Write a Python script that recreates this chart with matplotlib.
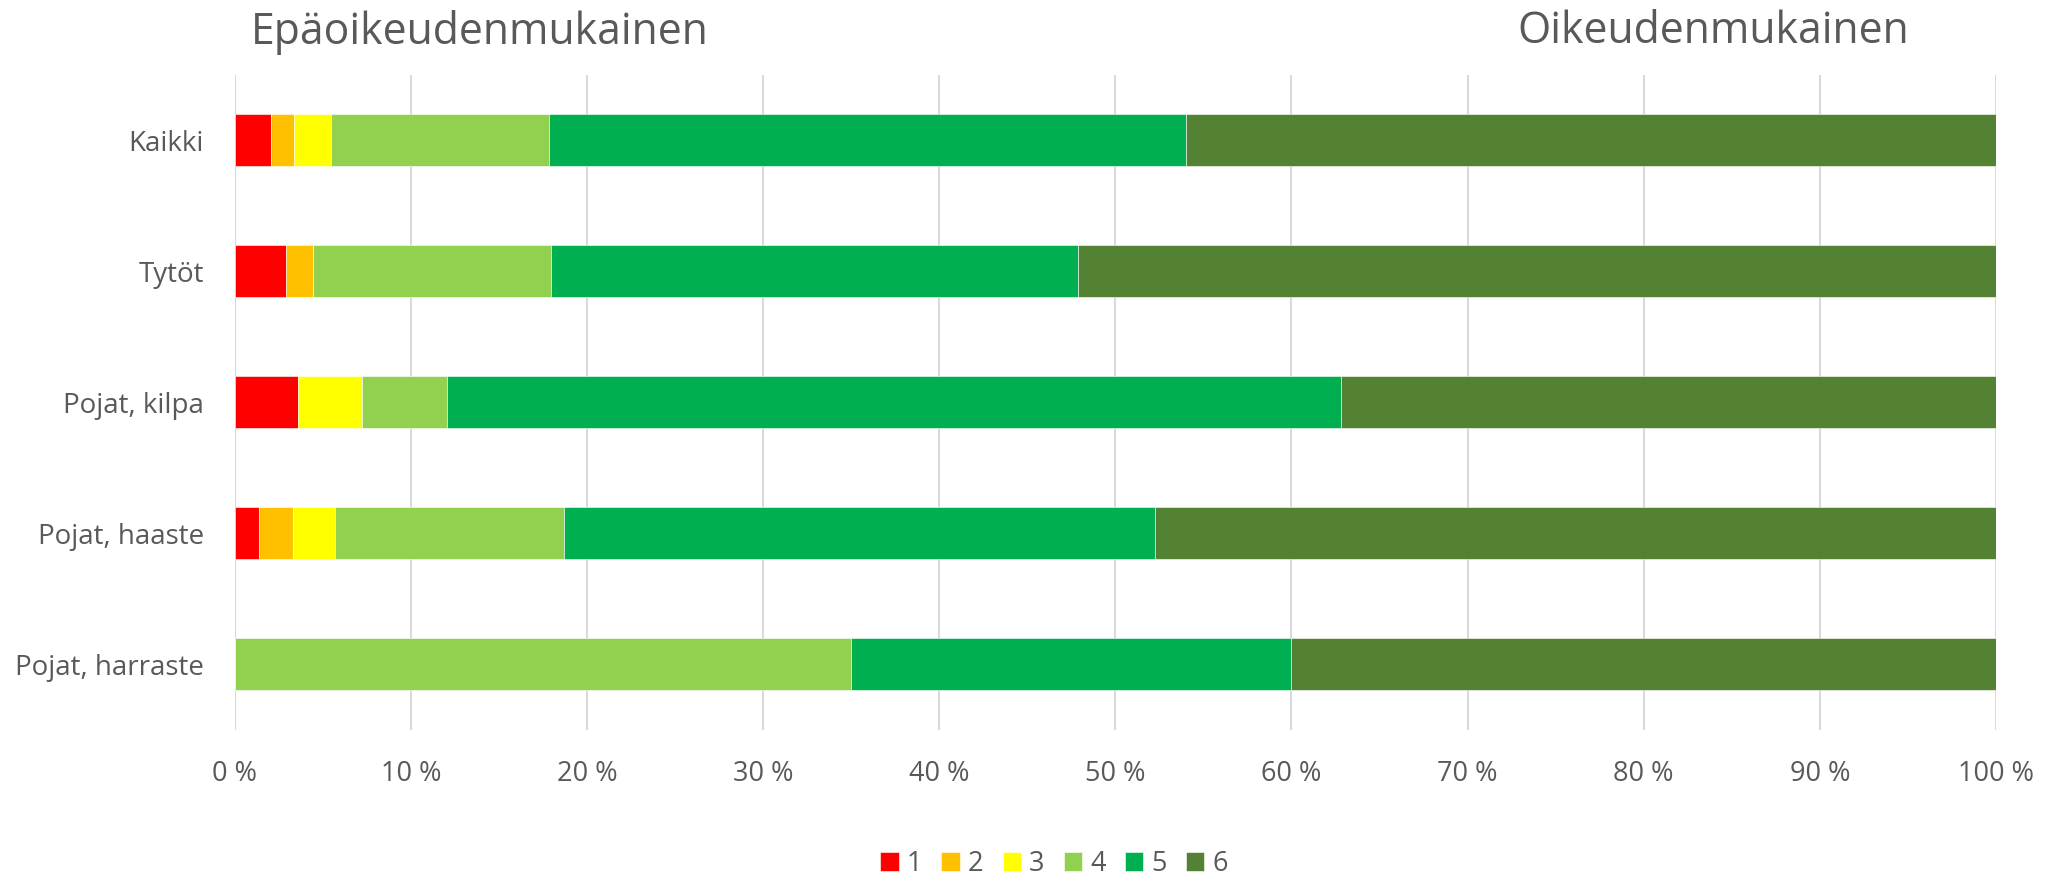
import matplotlib
matplotlib.use("Agg")
import matplotlib.pyplot as plt
import numpy as np
from matplotlib.ticker import FuncFormatter, MultipleLocator

plt.rcParams['font.family'] = ['Open Sans', 'DejaVu Sans']

categories = ["Kaikki", "Tytöt", "Pojat, kilpa", "Pojat, haaste", "Pojat, harraste"]
series_names = ["1", "2", "3", "4", "5", "6"]
s1 = [2.05, 2.94, 3.59, 1.38, 0.0]
s2 = [1.31, 1.50, 0.0, 1.92, 0.0]
s3 = [2.12, 0.0, 3.62, 2.41, 0.0]
s4 = [12.36, 13.50, 4.84, 12.99, 35.0]
s5 = [36.20, 29.93, 50.74, 33.56, 25.0]
s6 = [45.96, 52.13, 37.21, 47.74, 40.0]
colors = ["#FF0000", "#FFC000", "#FFFF00", "#92D050", "#00B050", "#548235"]

series = [s1, s2, s3, s4, s5, s6]
text_color = "#595959"

fig = plt.figure(figsize=(20.53, 8.781), dpi=100)
ax = fig.add_axes([0.1143, 0.169, 0.9722 - 0.1143, 0.915 - 0.169])

y = np.arange(len(categories))
left = np.zeros(len(categories))
for name, vals, c in zip(series_names, series, colors):
    vals = np.array(vals)
    ax.barh(y, vals, left=left, height=0.4, color=c, label=name,
            edgecolor="white", linewidth=0.4, zorder=3)
    left += vals

ax.set_xlim(0, 100)
ax.set_ylim(len(categories) - 0.5, -0.5)
ax.xaxis.set_major_locator(MultipleLocator(10))
ax.xaxis.set_major_formatter(FuncFormatter(lambda v, p: f"{int(round(v))} %"))
ax.set_yticks(y)
ax.set_yticklabels(categories)
ax.grid(axis="x", color="#D9D9D9", linewidth=1.5, zorder=0)
for s in ax.spines.values():
    s.set_visible(False)
ax.tick_params(axis="both", length=0, colors=text_color)
ax.tick_params(axis="x", pad=22, labelsize=19.5)
ax.tick_params(axis="y", pad=22, labelsize=20)

fig.text(251 / 2053, 1 - 32 / 878, "Epäoikeudenmukainen", ha="left", va="center",
         fontsize=30.8, color=text_color)
fig.text(1909 / 2053, 1 - 32 / 878, "Oikeudenmukainen", ha="right", va="center",
         fontsize=30.8, color=text_color)

leg = fig.legend(loc="center", bbox_to_anchor=(805 / 1568, 1 - 864 / 878), ncol=6,
                 frameon=False, fontsize=19.5, handlelength=0.68, handleheight=0.68,
                 handletextpad=0.3, columnspacing=0.7, labelcolor=text_color)

fig.savefig("out.png", dpi=100)
